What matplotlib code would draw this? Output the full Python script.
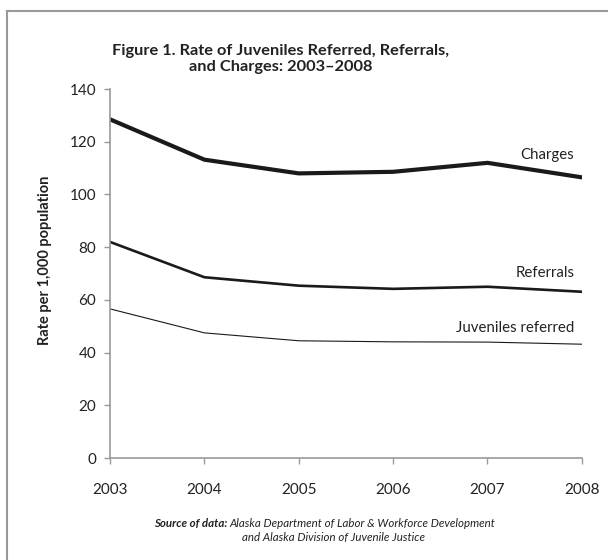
import matplotlib.pyplot as plt
from matplotlib.lines import Line2D

years = [2003, 2004, 2005, 2006, 2007, 2008]
charges = [128.5, 113.2, 108.0, 108.6, 112.0, 106.5]
referrals = [82.0, 68.6, 65.4, 64.2, 65.0, 63.1]
juveniles = [56.6, 47.5, 44.5, 44.1, 44.0, 43.2]

plt.rcParams['font.family'] = ['Lato', 'DejaVu Sans']

fig = plt.figure(figsize=(6.08, 5.6), dpi=100)
ax = fig.add_axes([0.181, 0.182, 0.776, 0.659])

ink = '#1a1a1a'
ax.plot(years, charges, color=ink, lw=3.0, solid_joinstyle='miter')
ax.plot(years, referrals, color=ink, lw=1.9)
ax.plot(years, juveniles, color=ink, lw=0.8)

ax.text(2007.92, 114.8, 'Charges', ha='right', va='center', fontsize=10.8, color='#222222')
ax.text(2007.92, 70.3, 'Referrals', ha='right', va='center', fontsize=10.8, color='#222222')
ax.text(2007.92, 49.3, 'Juveniles referred', ha='right', va='center', fontsize=10.8, color='#222222')

ax.set_xlim(2003, 2008)
ax.set_ylim(0, 140)
ax.set_xticks(years)
ax.set_yticks(range(0, 141, 20))
for s in ['top', 'right']:
    ax.spines[s].set_visible(False)
for s in ['left', 'bottom']:
    ax.spines[s].set_color('#999999')
    ax.spines[s].set_linewidth(1.2)
ax.tick_params(axis='both', colors='#999999', length=4, width=1.0, labelcolor='#222222', labelsize=11)
ax.tick_params(axis='x', pad=14)
ax.tick_params(axis='y', pad=6)
ax.set_ylabel('Rate per 1,000 population', fontsize=10.5, fontweight='bold', color='#222222')
ax.yaxis.set_label_coords(-0.124, 0.535)

fig.text(0.462, 0.894, 'Figure 1. Rate of Juveniles Referred, Referrals,\nand Charges: 2003\u20132008',
         ha='center', va='center', fontsize=11.8, fontweight='bold', color='#222222', linespacing=1.2)

fig.text(0.378, 0.066, 'Source of data: ', ha='right', va='center', fontsize=8.3,
         fontweight='bold', style='italic', color='#222222')
fig.text(0.378, 0.066, 'Alaska Department of Labor & Workforce Development', ha='left', va='center',
         fontsize=8.3, style='italic', color='#222222')
fig.text(0.549, 0.040, 'and Alaska Division of Juvenile Justice', ha='center', va='center',
         fontsize=8.3, style='italic', color='#222222')

# frame around the figure (top and left only)
fig.add_artist(Line2D([0.0115, 1.0], [0.980, 0.980], transform=fig.transFigure, color='#999999', lw=1.5))
fig.add_artist(Line2D([0.0115, 0.0115], [0.0, 0.980], transform=fig.transFigure, color='#999999', lw=1.5))

fig.savefig('out.png', dpi=100)
